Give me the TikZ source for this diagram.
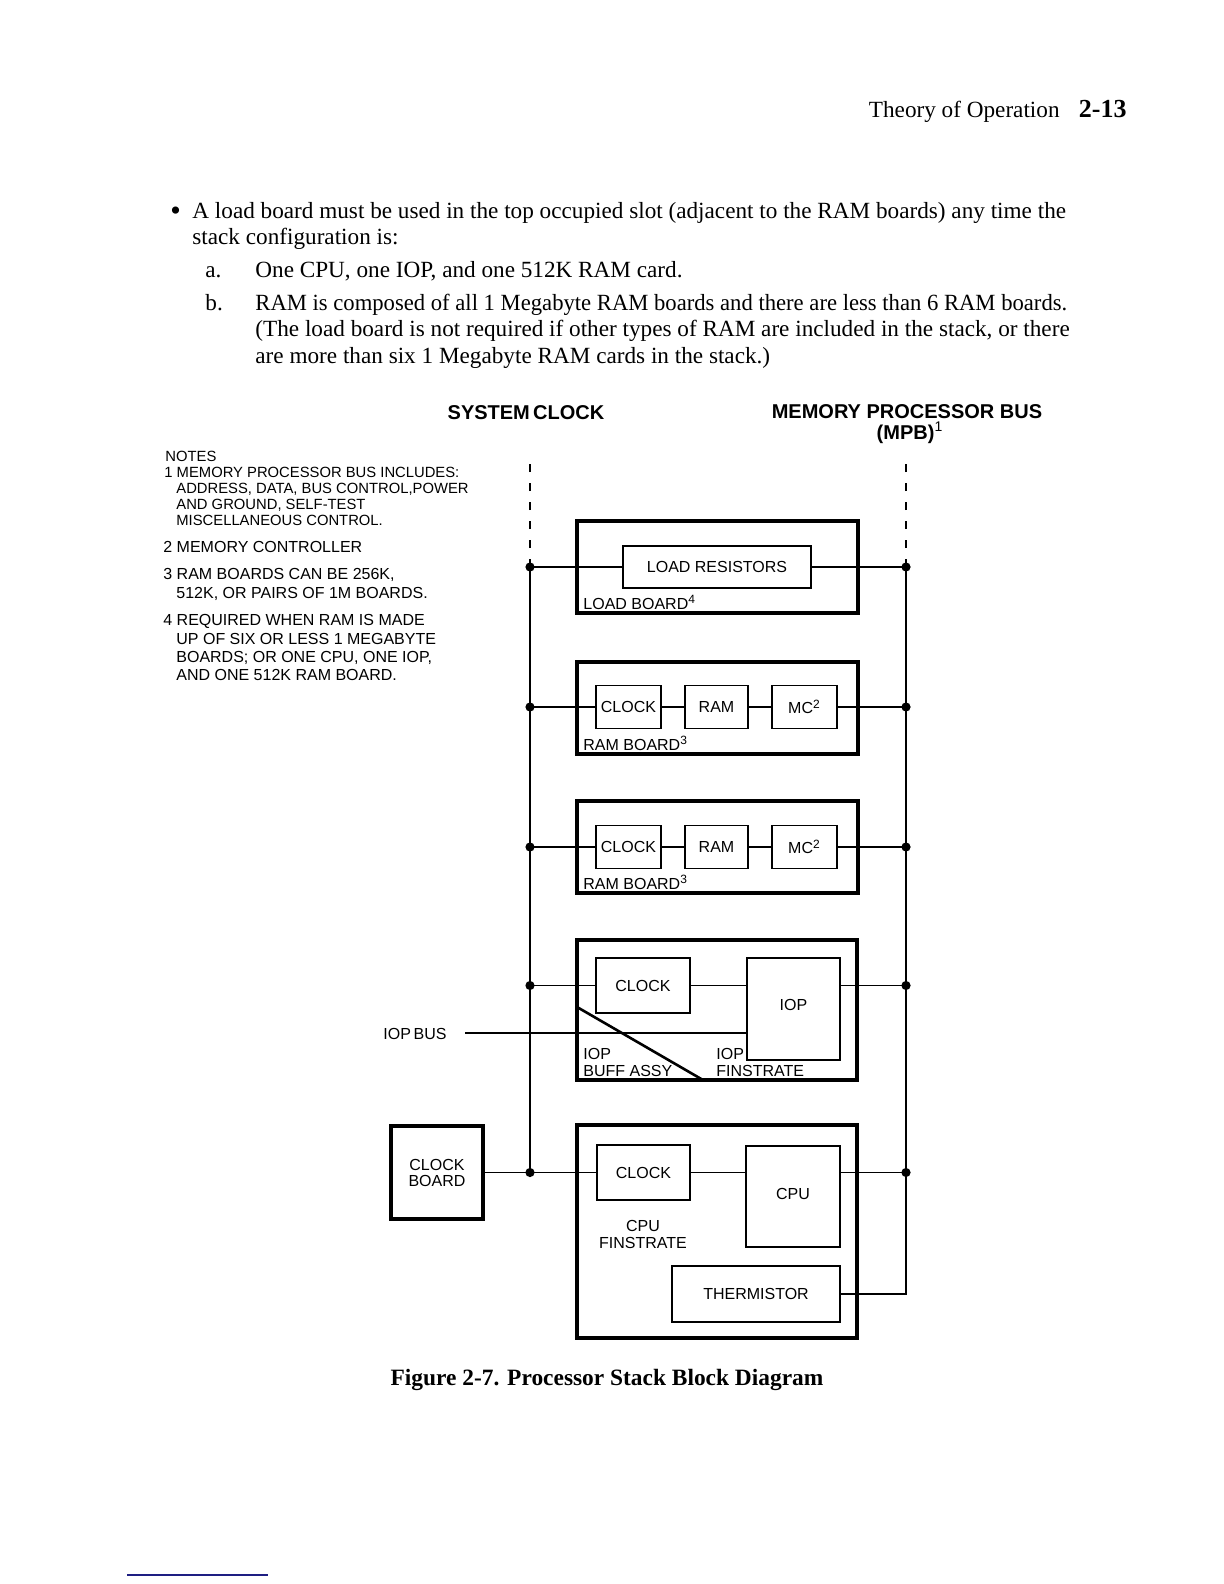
\documentclass[tikz,border=0pt]{standalone}
\usepackage{fontspec}
\setmainfont{Liberation Serif}
\setsansfont{Liberation Sans}
\usetikzlibrary{positioning}
\definecolor{linkblue}{RGB}{30,30,130}

\begin{document}
\begin{tikzpicture}[x=0.5pt,y=-0.5pt,
  board/.style={draw,line width=1.6pt,inner sep=0pt,minimum width=140.5pt,font=\sffamily\fontsize{8}{8}\selectfont,align=center},
  part/.style={draw,line width=0.9pt,inner sep=0pt,font=\sffamily\fontsize{8}{8}\selectfont},
  lbl/.style={inner sep=0pt,font=\sffamily\fontsize{8}{8.5}\selectfont},
  bus/.style={line width=0.9pt},
  wire/.style={line width=0.8pt},
  body/.style={anchor=base west,inner sep=0pt,font=\fontsize{11.6}{13}\selectfont},
  title/.style={anchor=base,inner sep=0pt,font=\sffamily\bfseries\fontsize{10}{10}\selectfont},
  notea/.style={anchor=base west,inner sep=0pt,font=\sffamily\fontsize{7.4}{8}\selectfont},
  noteb/.style={anchor=base west,inner sep=0pt,font=\sffamily\fontsize{8}{9}\selectfont}]
\fill[white] (0,0) rectangle (1224,1584);
\useasboundingbox (0,0) rectangle (1224,1584);

% page header
\node[anchor=base east,inner sep=0pt,font=\fontsize{11.6}{13}\selectfont] (hdr) at (1060,118) {Theory of Operation};
\node[anchor=base east,inner sep=0pt,font=\bfseries\fontsize{13}{13}\selectfont] (pageno) at (1127,118) {2-13};

% text above the figure
\node[body,font=\fontsize{15}{15}\selectfont] (bul) at (170,220.5) {\textbullet};
\node[body] (t1) at (192,218) {A load board must be used in the top occupied slot (adjacent to the RAM boards) any time the};
\node[body] (t2) at (192,244) {stack configuration is:};
\node[body] (ia) at (205,277) {a.};
\node[body] (ta) at (255,277) {One CPU, one IOP, and one 512K RAM card.};
\node[body] (ib) at (205,310) {b.};
\node[body] (tb1) at (255,310) {\scalebox{0.976}[1]{RAM is composed of all 1 Megabyte RAM boards and there are less than 6 RAM boards.}};
\node[body] (tb2) at (255,336) {(The load board is not required if other types of RAM are included in the stack, or there};
\node[body] (tb3) at (255,363) {are more than six 1 Megabyte RAM cards in the stack.)};

% bus titles
\node[title] (sysclk) at (526,419) {SYSTEM\,CLOCK};
\node[title] (mpb) at (907,418) {MEMORY PROCESSOR BUS};
\node[title] (mpbb) at (910,439) {(MPB)\textsuperscript{\mdseries 1}};

% notes
\node[notea] (nt0) at (165,461) {NOTES};
\node[notea] (nt1) at (164,477) {1 MEMORY PROCESSOR BUS INCLUDES:};
\node[notea] (nt1b) at (176,493) {ADDRESS, DATA, BUS CONTROL,POWER};
\node[notea] (nt1c) at (176,509) {AND GROUND, SELF-TEST};
\node[notea] (nt1d) at (176,525) {MISCELLANEOUS CONTROL.};
\node[noteb] (nt2) at (163,552) {2 MEMORY CONTROLLER};
\node[noteb] (nt3) at (163,579) {3 RAM BOARDS CAN BE 256K,};
\node[noteb] (nt3b) at (176,598) {512K, OR PAIRS OF 1M BOARDS.};
\node[noteb] (nt4) at (163,625) {4 REQUIRED WHEN RAM IS MADE};
\node[noteb] (nt4b) at (176,644) {UP OF SIX OR LESS 1 MEGABYTE};
\node[noteb] (nt4c) at (176,662) {BOARDS; OR ONE CPU, ONE IOP,};
\node[noteb] (nt4d) at (176,680) {AND ONE 512K RAM BOARD.};

% boards
\node[board,minimum height=46pt] (ldbrd) at (717.5,567) {};
\node[board,minimum height=46pt] (rambrda) at (717.5,708) {};
\node[board,minimum height=46pt] (rambrdb) at (717.5,847) {};
\node[board,minimum width=140pt,minimum height=70pt] (iopbrd) at (717,1010) {};
\node[board,minimum width=140pt,minimum height=106.5pt] (cpubrd) at (717,1231.5) {};
\node[board,minimum width=46pt,minimum height=46.5pt] (clkbrd) at (437,1172.5) {CLOCK\\BOARD};

% parts on the boards
\node[part,minimum width=94pt,minimum height=21pt] (lr) at (717,567) {LOAD RESISTORS};
\node[part,minimum width=32.5pt,minimum height=21.5pt] (clka) at (628.5,707) {CLOCK};
\node[part,minimum width=31.5pt,minimum height=21.5pt] (rama) at (716.5,707) {RAM};
\node[part,minimum width=32.5pt,minimum height=21.5pt] (mca) at (804.5,707) {MC\textsuperscript{2}};
\node[part,minimum width=32.5pt,minimum height=21.5pt] (clkb) at (628.5,847) {CLOCK};
\node[part,minimum width=31.5pt,minimum height=21.5pt] (ramb) at (716.5,847) {RAM};
\node[part,minimum width=32.5pt,minimum height=21.5pt] (mcb) at (804.5,847) {MC\textsuperscript{2}};
\node[part,minimum width=47pt,minimum height=27.5pt] (clkc) at (643,985.5) {CLOCK};
\node[part,minimum width=46.5pt,minimum height=51pt] (iop) at (793.5,1009) {\raisebox{4.5pt}{IOP}};
\node[part,minimum width=46.5pt,minimum height=27.5pt] (clkd) at (643.5,1172.5) {CLOCK};
\node[part,minimum width=47pt,minimum height=50.5pt] (cpu) at (793,1196.5) {\raisebox{3pt}{CPU}};
\node[part,minimum width=84pt,minimum height=28pt] (therm) at (756,1294) {THERMISTOR};

% board labels
\node[lbl,anchor=base west] (ldlbl) at (583,609) {LOAD BOARD\textsuperscript{4}};
\node[lbl,anchor=base west] (ramlbla) at (583,750) {RAM BOARD\textsuperscript{3}};
\node[lbl,anchor=base west] (ramlblb) at (583,889) {RAM BOARD\textsuperscript{3}};
\node[lbl,anchor=base west,align=left] (bufflbl) at (583,1076) {IOP\\BUFF ASSY};
\node[lbl,anchor=base west,align=left] (finlbl) at (716,1076) {IOP\\FINSTRATE};
\node[lbl,anchor=base,align=center] (cpufin) at (643,1248) {CPU\\FINSTRATE};
\node[lbl,anchor=base east] (iopbuslbl) at (447,1039) {IOP\,BUS};

% bus coordinates
\coordinate (lbus) at (530,0);
\coordinate (rbus) at (906,0);
\coordinate (lbtop) at (530,457);
\coordinate (rbtop) at (906,457);
\coordinate (lj1) at (lr.west -| lbus);
\coordinate (lj2) at (clka.west -| lbus);
\coordinate (lj3) at (clkb.west -| lbus);
\coordinate (lj4) at (clkc.west -| lbus);
\coordinate (lj5) at (clkd.west -| lbus);
\coordinate (rj1) at (lr.east -| rbus);
\coordinate (rj2) at (mca.east -| rbus);
\coordinate (rj3) at (mcb.east -| rbus);
\coordinate (rj4) at (clkc.east -| rbus);
\coordinate (rj5) at (clkd.east -| rbus);
\coordinate (rcorner) at (therm.east -| rbus);
\coordinate (iopstart) at (465,1033);

% buses
\draw[bus,dash pattern=on 4pt off 5.5pt] (lj1) -- (lbtop);
\draw[bus,dash pattern=on 4pt off 5.5pt] (rj1) -- (rbtop);
\draw[bus] (lj1) -- (lj5);
\draw[bus] (rj1) -- (rcorner) -- (therm.east);

% wires
\draw[wire] (lj1) -- (lr.west);
\draw[wire] (lr.east) -- (rj1);
\draw[wire] (lj2) -- (clka.west);
\draw[wire] (clka.east) -- (rama.west);
\draw[wire] (rama.east) -- (mca.west);
\draw[wire] (mca.east) -- (rj2);
\draw[wire] (lj3) -- (clkb.west);
\draw[wire] (clkb.east) -- (ramb.west);
\draw[wire] (ramb.east) -- (mcb.west);
\draw[wire] (mcb.east) -- (rj3);
\draw[wire] (lj4) -- (clkc.west);
\draw[wire] (clkc.east) -- (clkc.east -| iop.west);
\draw[wire] (iop.east |- clkc.east) -- (rj4);
\draw[wire] (iopstart) -- (iopstart -| iop.west);
\draw[wire] (clkbrd.east) -- (clkd.west);
\draw[wire] (clkd.east) -- (clkd.east -| cpu.west);
\draw[wire] (cpu.east |- clkd.east) -- (rj5);

% split of the IOP board
\draw[line width=1.3pt] (577,1007) -- (703,1080);

% junction dots
\foreach \j in {lj1,lj2,lj3,lj4,lj5,rj1,rj2,rj3,rj4,rj5}
  \fill (\j) circle[radius=2.3pt];

% caption
\node[anchor=base,inner sep=0pt,font=\bfseries\fontsize{11.7}{13}\selectfont] (cap) at (607,1385) {Figure 2-7. Processor Stack Block Diagram};

% rule at page foot
\draw[linkblue,line width=0.6pt] (127,1575) -- (268,1575);
\end{tikzpicture}
\end{document}
